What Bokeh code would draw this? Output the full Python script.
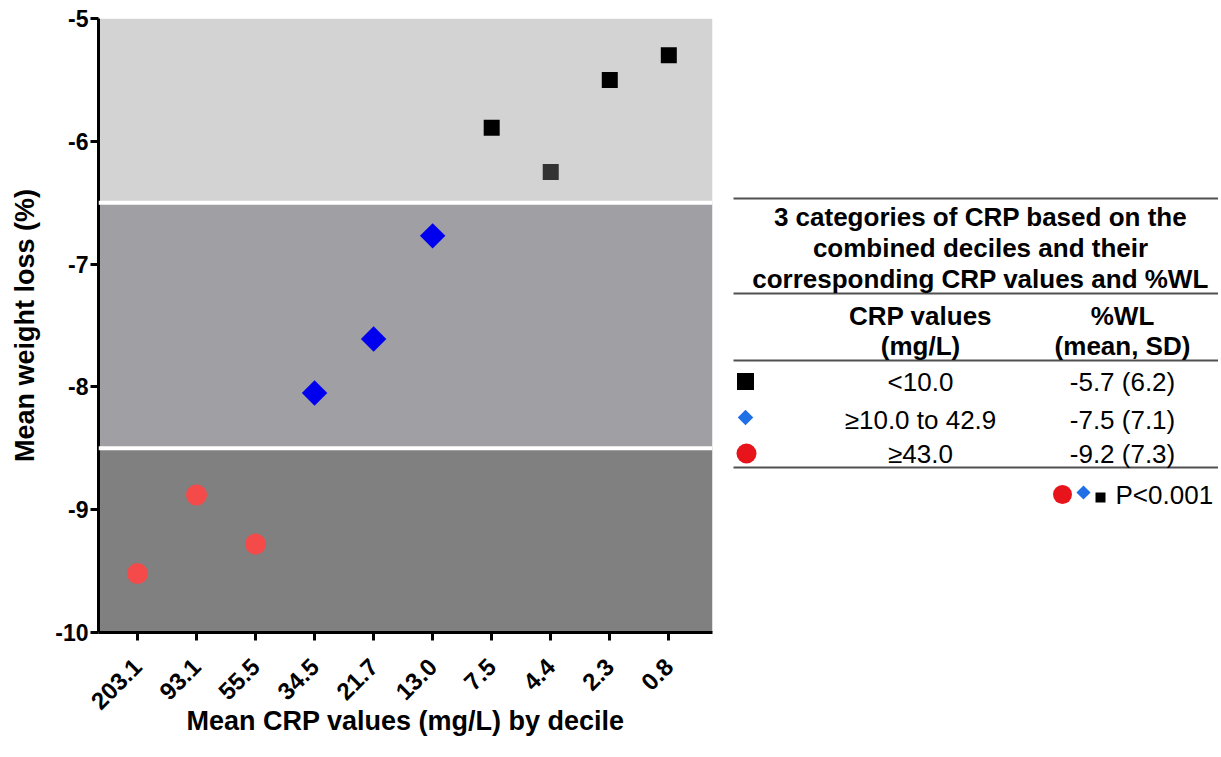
from bokeh.plotting import figure
from bokeh.models import BoxAnnotation, Span, FixedTicker, Range1d
from bokeh.layouts import row
from bokeh.embed import file_html
from bokeh.resources import INLINE
from bokeh.core.properties import value
import math

FONT = "Liberation Sans"

# ---- data ----
crp_deciles = ["203.1", "93.1", "55.5", "34.5", "21.7", "13.0", "7.5", "4.4", "2.3", "0.8"]
weight_loss = [-9.52, -8.88, -9.28, -8.05, -7.61, -6.77, -5.89, -6.25, -5.50, -5.30]
high_idx = [0, 1, 2]
mid_idx = [3, 4, 5]
low_idx = [6, 7, 8, 9]
low_colors = ["#000000", "#333333", "#000000", "#000000"]
band_bottoms = [-6.5, -8.5, -10.0]
band_tops = [-5.0, -6.5, -8.5]
band_colors = ["#d3d3d3", "#a0a0a4", "#808080"]
y_ticks = [-10, -9, -8, -7, -6, -5]

table_title = ["3 categories of CRP based on the",
               "combined deciles and their",
               "corresponding CRP values and %WL"]
col_headers = [["CRP values", "(mg/L)"], ["%WL", "(mean, SD)"]]
row_crp = ["<10.0", "\u226510.0 to 42.9", "\u226543.0"]
row_wl = ["-5.7 (6.2)", "-7.5 (7.1)", "-9.2 (7.3)"]
p_text = "P<0.001"

# ---- main plot ----
H = 750
FT, FB = 18, 632  # frame top / bottom (page px)
p = figure(width=720, height=H, output_backend="svg", toolbar_location=None,
           x_range=Range1d(-0.66, 9.74), y_range=Range1d(-10, -5),
           min_border_left=98, min_border_right=8, min_border_top=FT, min_border_bottom=H - FB)
p.outline_line_color = None
p.xgrid.visible = False
p.ygrid.visible = False

for b, t_, c in zip(band_bottoms, band_tops, band_colors):
    p.add_layout(BoxAnnotation(bottom=b, top=t_, fill_color=c, fill_alpha=1.0, line_color=None, level="underlay"))
for b in band_bottoms[:2]:
    p.add_layout(Span(location=b, dimension="width", line_color="white", line_width=4))

xs = list(range(len(crp_deciles)))
p.scatter([xs[i] for i in high_idx], [weight_loss[i] for i in high_idx], marker="circle",
          size=21, fill_color="#f44a4a", line_color=None)
p.scatter([xs[i] for i in mid_idx], [weight_loss[i] for i in mid_idx], marker="square",
          angle=math.pi / 4, size=18, fill_color="#0000ee", line_color=None)
p.scatter([xs[i] for i in low_idx], [weight_loss[i] for i in low_idx], marker="square",
          size=16, fill_color=low_colors, line_color=None)

for ax in (p.xaxis[0], p.yaxis[0]):
    ax.axis_line_width = 3
    ax.axis_line_color = "black"
    ax.major_tick_line_width = 3
    ax.major_tick_out = 8
    ax.major_tick_in = 0
    ax.minor_tick_out = 0
    ax.minor_tick_in = 0
    ax.major_label_text_font = FONT
    ax.major_label_text_font_style = "bold"
    ax.major_label_text_color = "black"
    ax.axis_label_text_font = FONT
    ax.axis_label_text_font_style = "bold"
    ax.axis_label_text_font_size = "27px"
    ax.axis_label_text_color = "black"

p.xaxis.ticker = FixedTicker(ticks=xs)
p.xaxis.major_label_overrides = {i: s for i, s in enumerate(crp_deciles)}
p.xaxis.major_label_orientation = math.pi / 4
p.xaxis.major_label_text_font_size = "24px"
p.xaxis.major_label_standoff = 22
p.xaxis.axis_label = "Mean CRP values (mg/L) by decile"
p.xaxis.axis_label_standoff = -14

p.yaxis.ticker = FixedTicker(ticks=y_ticks)
p.yaxis.major_label_overrides = {v: str(v) for v in y_ticks}
p.yaxis.major_label_text_font_size = "23px"
p.yaxis.major_label_standoff = 2
p.yaxis.axis_label = "Mean weight loss (%)"
p.yaxis.axis_label_standoff = 12

# ---- table panel (data coords = page pixels inside the aligned frame) ----
W = 498
t = figure(width=W, height=H, output_backend="svg", toolbar_location=None,
           x_range=Range1d(720, 720 + W), y_range=Range1d(FB, FT),
           min_border_left=0, min_border_right=0, min_border_top=FT, min_border_bottom=H - FB)
t.outline_line_color = None
t.axis.visible = False
t.xgrid.visible = False
t.ygrid.visible = False

x0, x1 = 733, 1218
for yl in [198, 293, 360, 467]:
    t.segment(x0=[x0], y0=[yl], x1=[x1], y1=[yl], line_color="#505050", line_width=2)

FS = "26px"
t.text(x=[980] * 3, y=[216, 247, 278], text=table_title, text_font=value(FONT),
       text_font_style="bold", text_font_size=FS, text_align="center", text_baseline="middle",
       text_color="black")

col_x = [920, 1122]
for cx, hdr in zip(col_x, col_headers):
    t.text(x=[cx, cx], y=[315, 345], text=hdr, text_font=value(FONT), text_font_style="bold",
           text_font_size=FS, text_align="center", text_baseline="middle", text_color="black")

row_y = [381, 419, 453]
t.text(x=[col_x[0]] * 3, y=row_y, text=row_crp, text_font=value(FONT), text_font_size=FS,
       text_align="center", text_baseline="middle", text_color="black")
t.text(x=[col_x[1]] * 3, y=row_y, text=row_wl, text_font=value(FONT), text_font_size=FS,
       text_align="center", text_baseline="middle", text_color="black")

t.scatter([745], [row_y[0]], marker="square", size=17, fill_color="black", line_color=None)
t.scatter([745], [row_y[1] - 2], marker="square", angle=math.pi / 4, size=11, fill_color="#1f6fe6", line_color=None)
t.scatter([746], [row_y[2]], marker="circle", size=20, fill_color="#e8141c", line_color=None)

t.scatter([1062], [494], marker="circle", size=19, fill_color="#e8141c", line_color=None)
t.scatter([1083], [492], marker="square", angle=math.pi / 4, size=10, fill_color="#1f6fe6", line_color=None)
t.scatter([1100], [497], marker="square", size=10, fill_color="black", line_color=None)
t.text(x=[1115], y=[494], text=[p_text], text_font=value(FONT), text_font_size=FS,
       text_align="left", text_baseline="middle", text_color="black")

layout = row(p, t)
open("out.html", "w").write(file_html(layout, INLINE))
